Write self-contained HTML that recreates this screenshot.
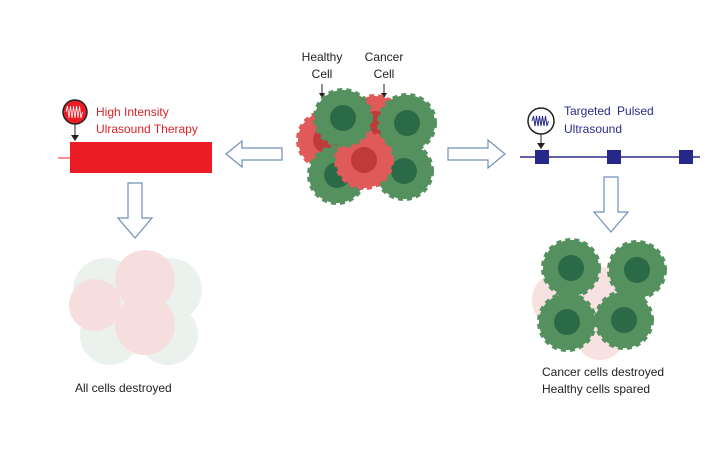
<!DOCTYPE html>
<html><head><meta charset="utf-8"><style>
html,body{margin:0;padding:0;background:#fff;}
svg{display:block;font-family:"Liberation Sans",sans-serif;}
</style></head><body>
<svg width="723" height="468" viewBox="0 0 723 468" xmlns="http://www.w3.org/2000/svg">
<defs>
<g id="gc"><circle r="28" fill="#55905f" stroke="#55905f" stroke-width="4" stroke-dasharray="5 4"/><circle r="13" fill="#2a6a46"/></g>
<g id="rc"><circle r="28" fill="#e05a5a" stroke="#e05a5a" stroke-width="4" stroke-dasharray="5 4"/><circle r="13" fill="#c03a3a"/></g>
</defs>
<text x="322" y="61" font-size="12" text-anchor="middle" fill="#222">Healthy</text>
<text x="322" y="78" font-size="12" text-anchor="middle" fill="#222">Cell</text>
<text x="384" y="61" font-size="12" text-anchor="middle" fill="#222">Cancer</text>
<text x="384" y="78" font-size="12" text-anchor="middle" fill="#222">Cell</text>
<line x1="322" y1="84" x2="322" y2="95" stroke="#222"/><path d="M319 93 L325 93 L322 98Z" fill="#222"/>
<line x1="384" y1="84" x2="384" y2="95" stroke="#222"/><path d="M381 93 L387 93 L384 98Z" fill="#222"/>
<use href="#rc" x="326" y="140"/>
<use href="#rc" x="375" y="124"/>
<use href="#gc" x="337" y="175"/>
<use href="#gc" x="404" y="171"/>
<use href="#rc" x="364" y="160"/>
<use href="#gc" x="343" y="118"/>
<use href="#gc" x="407" y="123"/>
<rect x="70" y="142" width="142" height="31" fill="#ec1c24"/>
<line x1="58" y1="158" x2="70" y2="158" stroke="#ec1c24"/>
<circle cx="75" cy="112" r="12" fill="#ec1c24" stroke="#222" stroke-width="1.5"/>
<path d="M66 112 l1.5 -6 l1.5 12 l1.5 -12 l1.5 12 l1.5 -12 l1.5 12 l1.5 -12 l1.5 12 l1.5 -12 l1.5 12 l1.5 -6" fill="none" stroke="#fff" stroke-width="0.8"/>
<line x1="75" y1="124" x2="75" y2="138" stroke="#222"/><path d="M71 135 L79 135 L75 141Z" fill="#222"/>
<text x="96" y="116" font-size="12" fill="#d8232a">High Intensity</text>
<text x="96" y="133" font-size="12" fill="#d8232a">Ulrasound Therapy</text>
<path d="M226 154 L242 141 L242 148 L282 148 L282 160 L242 160 L242 167 Z" fill="#fff" stroke="#6f8fb8" stroke-width="1.2"/>
<path d="M128 183 L142 183 L142 218 L152 218 L135 238 L118 218 L128 218 Z" fill="#fff" stroke="#6f8fb8" stroke-width="1.2"/>
<g opacity="0.28">
<circle cx="105" cy="290" r="32" fill="#b9d3c4"/><circle cx="170" cy="290" r="32" fill="#b9d3c4"/>
<circle cx="110" cy="335" r="30" fill="#b9d3c4"/><circle cx="168" cy="335" r="30" fill="#b9d3c4"/>
<circle cx="145" cy="280" r="30" fill="#e58a8a"/><circle cx="95" cy="305" r="26" fill="#e58a8a"/>
<circle cx="145" cy="325" r="30" fill="#e58a8a"/>
</g>
<text x="75" y="392" font-size="12" fill="#222">All cells destroyed</text>
<path d="M448 148 L488 148 L488 140 L505 154 L488 168 L488 160 L448 160 Z" fill="#fff" stroke="#6f8fb8" stroke-width="1.2"/>
<line x1="520" y1="157" x2="700" y2="157" stroke="#2b2b8a" stroke-width="1.5"/>
<rect x="535" y="150" width="14" height="14" fill="#27278a"/>
<rect x="607" y="150" width="14" height="14" fill="#27278a"/>
<rect x="679" y="150" width="14" height="14" fill="#27278a"/>
<circle cx="541" cy="121" r="13" fill="#fff" stroke="#222" stroke-width="1.5"/>
<path d="M532 121 l1.5 -5 l1.5 10 l1.5 -10 l1.5 10 l1.5 -10 l1.5 10 l1.5 -10 l1.5 10 l1.5 -10 l1.5 10 l1.5 -5" fill="none" stroke="#2b2b8a" stroke-width="1"/>
<line x1="541" y1="134" x2="541" y2="146" stroke="#222"/><path d="M537 143 L545 143 L541 149Z" fill="#222"/>
<text x="564" y="115" font-size="12" fill="#2b2b8a" word-spacing="3">Targeted Pulsed</text>
<text x="564" y="133" font-size="12" fill="#2b2b8a">Ultrasound</text>
<path d="M604 177 L618 177 L618 212 L628 212 L611 232 L594 212 L604 212 Z" fill="#fff" stroke="#6f8fb8" stroke-width="1.2"/>
<g opacity="0.25"><circle cx="560" cy="300" r="28" fill="#e58a8a"/><circle cx="605" cy="295" r="28" fill="#e58a8a"/><circle cx="600" cy="335" r="25" fill="#e58a8a"/></g>
<use href="#gc" x="571" y="268"/>
<use href="#gc" x="637" y="270"/>
<use href="#gc" x="567" y="322"/>
<use href="#gc" x="624" y="320"/>
<text x="542" y="376" font-size="12" fill="#222">Cancer cells destroyed</text>
<text x="542" y="393" font-size="12" fill="#222">Healthy cells spared</text>
</svg>
</body></html>
